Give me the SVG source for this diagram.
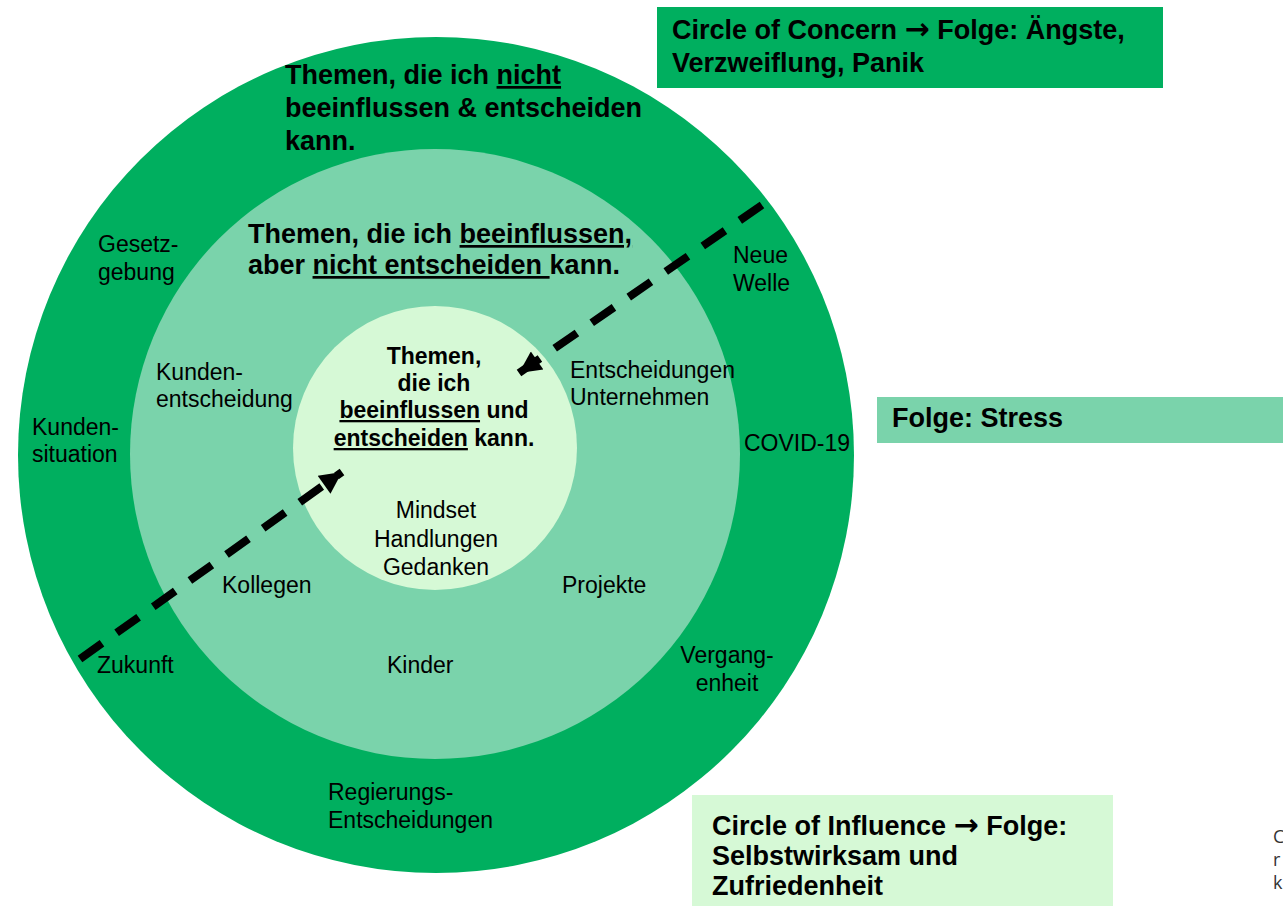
<svg xmlns="http://www.w3.org/2000/svg" width="1283" height="906" viewBox="0 0 1283 906">
<style>
text{font-family:"Liberation Sans",Arial,Helvetica,sans-serif;fill:#000}
.h{font-size:27px;font-weight:bold}
.hi{font-size:23px;font-weight:bold}
.l{font-size:23px}
.u{text-decoration:underline}
.arr{font-family:"DejaVu Sans",sans-serif;font-size:30px;font-weight:bold}
.cut{font-family:"Open Sans","Noto Sans",sans-serif;font-size:18px;fill:#333}
.dash{stroke:#000;stroke-width:8;stroke-dasharray:27 18;fill:none}
</style>
<defs>
<marker id="ah" viewBox="0 0 10 10" refX="10" refY="5" markerUnits="userSpaceOnUse" markerWidth="24" markerHeight="22" orient="auto">
<path d="M0,0 L10,5 L0,10 z" fill="#000"/>
</marker>
</defs>
<rect width="1283" height="906" fill="#fff"/>
<g id="circle-concern">
<circle cx="436" cy="455" r="418" fill="#00AF5F"/>
<text class="h" x="285" y="84">Themen, die ich <tspan class="u">nicht</tspan></text>
<text class="h" x="285" y="117">beeinflussen &amp; entscheiden</text>
<text class="h" x="285" y="150">kann.</text>
<text class="l" x="98" y="252">Gesetz-</text>
<text class="l" x="98" y="280">gebung</text>
<text class="l" x="733" y="263">Neue</text>
<text class="l" x="733" y="291">Welle</text>
<text class="l" x="32" y="435">Kunden-</text>
<text class="l" x="32" y="462">situation</text>
<text class="l" x="744" y="451">COVID-19</text>
<text class="l" x="97" y="673">Zukunft</text>
<text class="l" x="727" y="663" text-anchor="middle">Vergang-</text>
<text class="l" x="727" y="691" text-anchor="middle">enheit</text>
<text class="l" x="328" y="800">Regierungs-</text>
<text class="l" x="328" y="828">Entscheidungen</text>
</g>
<g id="circle-influence-outer">
<circle cx="435" cy="454" r="305" fill="#7AD3AB"/>
<text class="h" x="248" y="243">Themen, die ich <tspan class="u">beeinflussen,</tspan></text>
<text class="h" x="248" y="274">aber <tspan class="u">nicht entscheiden </tspan>kann.</text>
<text class="l" x="156" y="380">Kunden-</text>
<text class="l" x="156" y="407">entscheidung</text>
<text class="l" x="570" y="378">Entscheidungen</text>
<text class="l" x="570" y="405">Unternehmen</text>
<text class="l" x="222" y="593">Kollegen</text>
<text class="l" x="562" y="593">Projekte</text>
<text class="l" x="387" y="673">Kinder</text>
</g>
<g id="circle-control">
<circle cx="435" cy="448" r="142" fill="#D6F9D6"/>
<text class="hi" x="434" y="364" text-anchor="middle">Themen,</text>
<text class="hi" x="434" y="391" text-anchor="middle">die ich</text>
<text class="hi" x="434" y="418" text-anchor="middle"><tspan class="u">beeinflussen</tspan> und</text>
<text class="hi" x="434" y="446" text-anchor="middle"><tspan class="u">entscheiden</tspan> kann.</text>
<text class="l" x="436" y="518" text-anchor="middle">Mindset</text>
<text class="l" x="436" y="547" text-anchor="middle">Handlungen</text>
<text class="l" x="436" y="575" text-anchor="middle">Gedanken</text>
</g>
<g id="connectors">
<line class="dash" x1="762" y1="205" x2="519" y2="373" marker-end="url(#ah)"/>
<line class="dash" x1="80" y1="659" x2="342" y2="472" marker-end="url(#ah)"/>
</g>
<g id="box-concern">
<rect x="657" y="7" width="506" height="81" fill="#00AF5F"/>
<text class="h" x="672" y="39">Circle of Concern <tspan class="arr">→</tspan> Folge: Ängste,</text>
<text class="h" x="672" y="72">Verzweiflung, Panik</text>
</g>
<g id="box-stress">
<rect x="877" y="397" width="406" height="46" fill="#7AD3AB"/>
<text class="h" x="892" y="427">Folge: Stress</text>
</g>
<g id="box-influence">
<rect x="692" y="795" width="421" height="111" fill="#D6F9D6"/>
<text class="h" x="712" y="835">Circle of Influence <tspan class="arr">→</tspan> Folge:</text>
<text class="h" x="712" y="865">Selbstwirksam und</text>
<text class="h" x="712" y="895">Zufriedenheit</text>
</g>
<g id="cut-text">
<text class="cut" x="1273" y="843">C</text>
<text class="cut" x="1273" y="866">r</text>
<text class="cut" x="1273" y="889">k</text>
</g>
</svg>
